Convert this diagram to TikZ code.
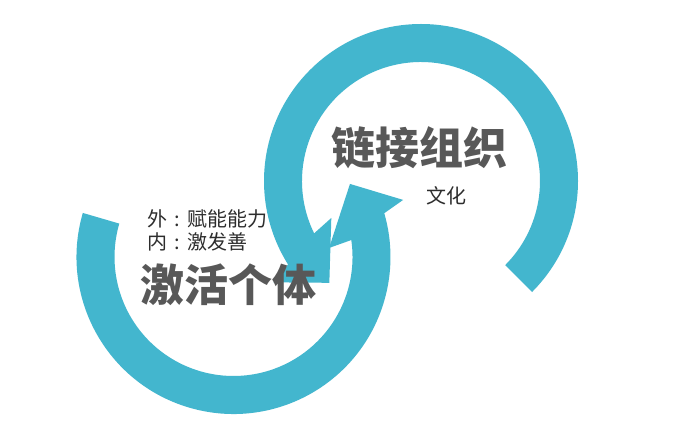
\documentclass[tikz,border=0pt]{standalone}
\usepackage{fontspec}
\newfontfamily\cjk{Noto Sans CJK SC}
\usetikzlibrary{calc}
\definecolor{ringteal}{RGB}{67,182,206}
\definecolor{headgray}{RGB}{88,88,88}
\definecolor{smallgray}{RGB}{45,45,45}
\newcommand{\wcolon}{\makebox[1em][c]{:}}
\tikzset{
  ring/.style={fill=ringteal, draw=none},
  bigtext/.style={font=\cjk\bfseries\fontsize{44}{47}\selectfont, text=headgray, inner sep=0pt},
  smalltext/.style={font=\cjk\fontsize{20}{23}\selectfont, text=smallgray, inner sep=0pt},
}
\begin{document}
\begin{tikzpicture}[x=1pt,y=1pt]
\useasboundingbox (0,0) rectangle (680,442);
\fill[white] (0,0) rectangle (680,442);
% centres of the two circular arrows
\coordinate (U) at (421,261);
\coordinate (L) at (233.5,185);
% upper circular arrow (tail lower right, head lower left)
\fill[ring] ($(U)+(-45:157pt)$) arc[start angle=-45, end angle=212.1, radius=157pt]
  -- ($(U)+(214.5:179pt)$) -- ($(U)+(228:137pt)$) -- ($(U)+(202.4:97pt)$)
  -- ($(U)+(206.1:119pt)$) arc[start angle=206.1, end angle=-45, radius=119pt] -- cycle;
% lower circular arrow (tail upper left, head upper right)
\fill[ring] ($(L)+(163.7:157pt)$) arc[start angle=163.7, end angle=376.2, radius=157pt]
  -- ($(L)+(18.6:179pt)$) -- ($(L)+(32.1:137.5pt)$) -- ($(L)+(5.4:96pt)$)
  -- ($(L)+(8.2:119pt)$) arc[start angle=368.2, end angle=163.7, radius=119pt] -- cycle;
% texts
\node[bigtext] (org) at (419,294) {链接组织};
\node[smalltext] (culture) at (446,246) {文化};
\node[smalltext, anchor=west] (outer) at (147,223) {外\wcolon 赋能能力};
\node[smalltext, anchor=west] (inner) at (147,200) {内\wcolon 激发善};
\node[bigtext] (indiv) at (228,157) {激活个体};
\end{tikzpicture}
\end{document}
